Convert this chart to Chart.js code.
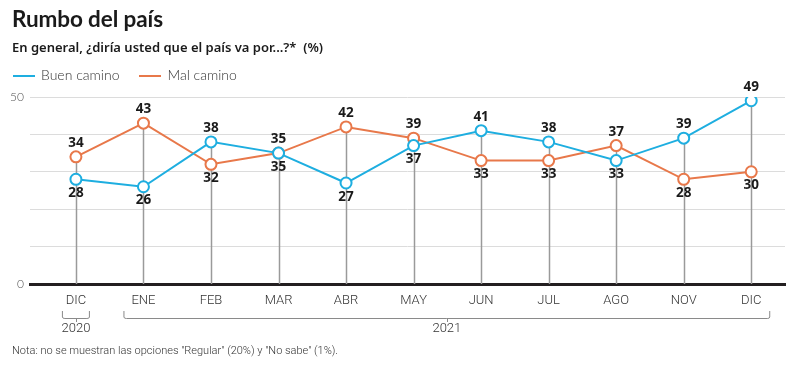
<!DOCTYPE html>
<html><head><meta charset="utf-8">
<script src="https://cdn.jsdelivr.net/npm/chart.js@4"></script>
<style>
html,body{margin:0;padding:0;background:#fff;}
#wrap{position:relative;width:800px;height:378px;overflow:hidden;}
#c{position:absolute;left:0;top:0;}
.t{position:absolute;white-space:nowrap;color:#1a1a1a;}
#title{left:12px;top:5px;font:700 22.5px Lato,'Noto Sans',sans-serif;letter-spacing:-0.1px;}
#sub{left:12px;top:38px;font:600 13px 'Noto Sans',Lato,sans-serif;}
#leg{left:13px;top:66px;font:300 14px Lato,'Noto Sans',sans-serif;color:#333;}
#leg span.sw{display:inline-block;width:22px;height:2px;vertical-align:middle;margin-right:6px;position:relative;top:-1px;}
#note{left:12px;top:344px;font:300 11px Roboto,'Noto Sans',sans-serif;color:#333;}
</style></head>
<body><div id="wrap">
<canvas id="c" width="800" height="378"></canvas>
<div class="t" id="title">Rumbo del país</div>
<div class="t" id="sub">En general, ¿diría usted que el país va por...?*&nbsp; (%)</div>
<div class="t" id="leg"><span class="sw" style="background:#1eaee0"></span>Buen camino<span class="sw" style="background:#e8784a;margin-left:20px"></span>Mal camino</div>
<div class="t" id="note">Nota: no se muestran las opciones "Regular" (20%) y "No sabe" (1%).</div>
</div>
<script>
const months = ['DIC','ENE','FEB','MAR','ABR','MAY','JUN','JUL','AGO','NOV','DIC'];
const buenCamino = [28,26,38,35,27,37,41,38,33,39,49];
const malCamino  = [34,43,32,35,42,39,33,33,37,28,30];
const yearGroups = [{label:'2020', from:0, to:0}, {label:'2021', from:1, to:10}];
const yTicks = [0,10,20,30,40,50];

const BLUE = '#1eaee0', ORANGE = '#e8784a';
const narrow = "Roboto,'Noto Sans',sans-serif";

const dropLines = {
  id:'dropLines',
  beforeDatasetsDraw(chart){
    const {ctx, scales:{x,y}} = chart;
    ctx.save();
    ctx.strokeStyle = '#9a9a9a'; ctx.lineWidth = 1.5;
    months.forEach((m,i)=>{
      const top = Math.max(buenCamino[i], malCamino[i]);
      const px = Math.round(x.getPixelForValue(i))+0.5;
      ctx.beginPath(); ctx.moveTo(px, y.getPixelForValue(top)); ctx.lineTo(px, y.getPixelForValue(0)); ctx.stroke();
    });
    ctx.restore();
  }
};

const valueLabels = {
  id:'valueLabels',
  afterDatasetsDraw(chart){
    const {ctx, scales:{x,y}} = chart;
    ctx.save();
    ctx.font = "700 13.5px 'Noto Sans',Lato,sans-serif";
    ctx.fillStyle = '#1a1a1a'; ctx.textAlign = 'center';
    months.forEach((m,i)=>{
      const b = buenCamino[i], mm = malCamino[i];
      const px = x.getPixelForValue(i);
      const blueAbove = b > mm;
      const pairs = [[b, blueAbove],[mm, !blueAbove]];
      pairs.forEach(([v, above])=>{
        const py = y.getPixelForValue(v);
        if (above){ ctx.textBaseline='bottom'; ctx.fillText(String(v), px, py-7); }
        else { ctx.textBaseline='top'; ctx.fillText(String(v), px, py+7); }
      });
    });
    ctx.restore();
  }
};

const brackets = {
  id:'brackets',
  afterDraw(chart){
    const {ctx, scales:{x}} = chart;
    ctx.save();
    ctx.strokeStyle = '#8a8a8a'; ctx.lineWidth = 1;
    ctx.fillStyle = '#333'; ctx.font = "300 13px " + narrow;
    ctx.textAlign='center'; ctx.textBaseline='middle';
    const yb = 318;
    yearGroups.forEach(g=>{
      const x0 = x.getPixelForValue(g.from) - (g.from===g.to ? 14 : 20);
      const x1 = x.getPixelForValue(g.to) + (g.from===g.to ? 14 : 19);
      ctx.beginPath();
      ctx.moveTo(x0+0.5, yb-7); ctx.lineTo(x0+0.5, yb-1); ctx.quadraticCurveTo(x0+0.5, yb+0.5, x0+3, yb+0.5);
      ctx.lineTo(x1-3, yb+0.5); ctx.quadraticCurveTo(x1-0.5, yb+0.5, x1-0.5, yb-1); ctx.lineTo(x1-0.5, yb-7);
      const cx = Math.round((x0+x1)/2)+0.5;
      ctx.moveTo(cx, yb+0.5); ctx.lineTo(cx, yb+4);
      ctx.stroke();
      ctx.fillText(g.label, (x0+x1)/2, 329);
    });
    ctx.restore();
  }
};

new Chart(document.getElementById('c'), {
  type:'line',
  data:{
    datasets:[
      {label:'Buen camino', data: buenCamino.map((v,i)=>({x:i,y:v})), borderColor:BLUE, backgroundColor:'#fff',
       borderWidth:2, pointRadius:5.5, pointBorderWidth:2, pointBackgroundColor:'#fff', pointBorderColor:BLUE, tension:0},
      {label:'Mal camino', data: malCamino.map((v,i)=>({x:i,y:v})), borderColor:ORANGE, backgroundColor:'#fff',
       borderWidth:2, pointRadius:5.5, pointBorderWidth:2, pointBackgroundColor:'#fff', pointBorderColor:ORANGE, tension:0}
    ]
  },
  options:{
    responsive:false, animation:false, events:[],
    layout:{padding:{top:97, right:15, left:0, bottom:0}},
    plugins:{legend:{display:false}, tooltip:{enabled:false}, title:{display:false}},
    scales:{
      x:{type:'linear', min:-0.68, max:10.5,
        afterBuildTicks(s){ s.ticks = months.map((m,i)=>({value:i})); },
        afterFit(s){ s.height = 94; },
        ticks:{autoSkip:false, maxRotation:0, padding:9, color:'#333', font:{family:narrow, size:13, weight:300},
          callback:(v)=>months[v]},
        grid:{display:false, drawTicks:false},
        border:{display:true, color:'#231f20', width:3}
      },
      y:{min:0, max:50,
        afterBuildTicks(s){ s.ticks = yTicks.map(v=>({value:v})); },
        afterFit(s){ s.width = 30; },
        ticks:{padding:6, color:'#555', font:{family:"Lato,'Noto Sans',sans-serif", size:12, weight:300},
          callback:(v)=> (v===0||v===50) ? String(v) : ''},
        grid:{color:'#dcdcdc', lineWidth:1, drawTicks:false},
        border:{display:false}
      }
    }
  },
  plugins:[dropLines, valueLabels, brackets]
});
</script>
</body></html>
